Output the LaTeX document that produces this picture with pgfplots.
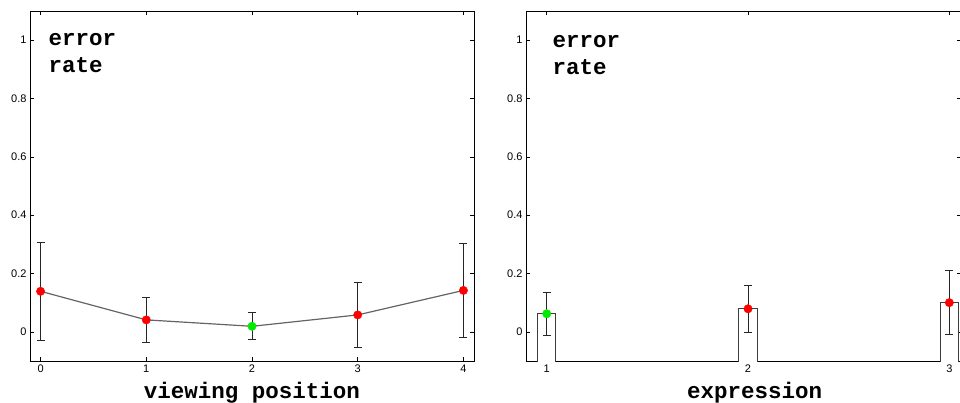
\documentclass[border=0pt]{standalone}
\usepackage{pgfplots}
\pgfplotsset{compat=1.18}
\usepackage{pgfplotstable}
\usepackage{fontspec}
\setmainfont{Liberation Sans}
\setmonofont{Liberation Mono}
\definecolor{dotred}{RGB}{255,0,0}
\definecolor{dotgreen}{RGB}{0,235,0}
\definecolor{linegray}{RGB}{100,100,100}
\definecolor{bargray}{RGB}{60,60,60}

\pgfplotstableread{
x y e
0 0.139 0.169
1 0.041 0.076
2 0.019 0.046
3 0.058 0.110
4 0.142 0.160
}\viewdata
\pgfplotstableread{
x y e
1 0.062 0.073
2 0.079 0.080
3 0.100 0.110
}\exprdata

\pgfplotsset{
  myax/.style={
    scale only axis, anchor=south west,
    ymin=-0.1, ymax=1.1,
    ytick={0,0.2,0.4,0.6,0.8,1},
    axis line style={line width=0.8pt, black},
    tick align=inside, major tick length=4pt,
    tick style={black, line width=0.6pt},
    /pgf/number format/assume math mode=true,
    ticklabel style={font=\fontsize{11}{13}\selectfont},
    xlabel style={font=\fontsize{22.5}{27}\ttfamily\bfseries, anchor=base, at={(axis description cs:0.5,0)}, yshift=-37pt},
    clip=true,
  },
  ebar/.style={
    error bars/.cd, y dir=both, y explicit,
    error bar style={draw=black!85, solid, line width=0.9pt},
    error mark options={rotate=90, mark size=4pt, draw=black!85, line width=0.9pt},
  },
}

\begin{document}
\begin{tikzpicture}[x=1pt,y=1pt]
\useasboundingbox (0,0) rectangle (960,402);
% left panel
\begin{axis}[myax, at={(30pt,41pt)}, width=444pt, height=350pt,
  xmin=-0.1, xmax=4.1, xtick={0,1,2,3,4},
  xlabel={viewing position}]
\addplot[linegray, line width=1.2pt, mark=none, ebar] table[x=x, y=y, y error=e] {\viewdata};
\addplot[only marks, mark=*, mark size=4.2pt, mark options={draw=dotred, fill=dotred}] coordinates {(0,0.139) (1,0.041) (3,0.058) (4,0.142)};
\addplot[only marks, mark=*, mark size=4.2pt, mark options={draw=dotgreen, fill=dotgreen}] coordinates {(2,0.019)};
\node[anchor=base west, align=left, font=\fontsize{22.5}{27}\ttfamily\bfseries] at (rel axis cs:0,1) [xshift=15pt, yshift=-62pt] {error\\rate};
\end{axis}
% right panel
\begin{axis}[myax, at={(526pt,41pt)}, width=435.4pt, height=350pt,
  xmin=0.897, xmax=3.06, xtick={1,2,3},
  xlabel={expression},
  xlabel style={at={(axis description cs:0.525,0)}}]
\addplot[fill=white, draw=bargray, line width=1pt] coordinates {(0.9545,-0.2) (0.9545,0.062) (1.0455,0.062) (1.0455,-0.2)} -- cycle;
\addplot[fill=white, draw=bargray, line width=1pt] coordinates {(1.9545,-0.2) (1.9545,0.079) (2.0455,0.079) (2.0455,-0.2)} -- cycle;
\addplot[fill=white, draw=bargray, line width=1pt] coordinates {(2.9545,-0.2) (2.9545,0.100) (3.0455,0.100) (3.0455,-0.2)} -- cycle;
\addplot[draw=none, mark=none, ebar] table[x=x, y=y, y error=e] {\exprdata};
\addplot[only marks, mark=*, mark size=4.2pt, mark options={draw=dotgreen, fill=dotgreen}] coordinates {(1,0.062)};
\addplot[only marks, mark=*, mark size=4.2pt, mark options={draw=dotred, fill=dotred}] coordinates {(2,0.079) (3,0.100)};
\node[anchor=base west, align=left, font=\fontsize{22.5}{27}\ttfamily\bfseries] at (rel axis cs:0,1) [xshift=23pt, yshift=-64pt] {error\\rate};
\end{axis}
\end{tikzpicture}
\end{document}
